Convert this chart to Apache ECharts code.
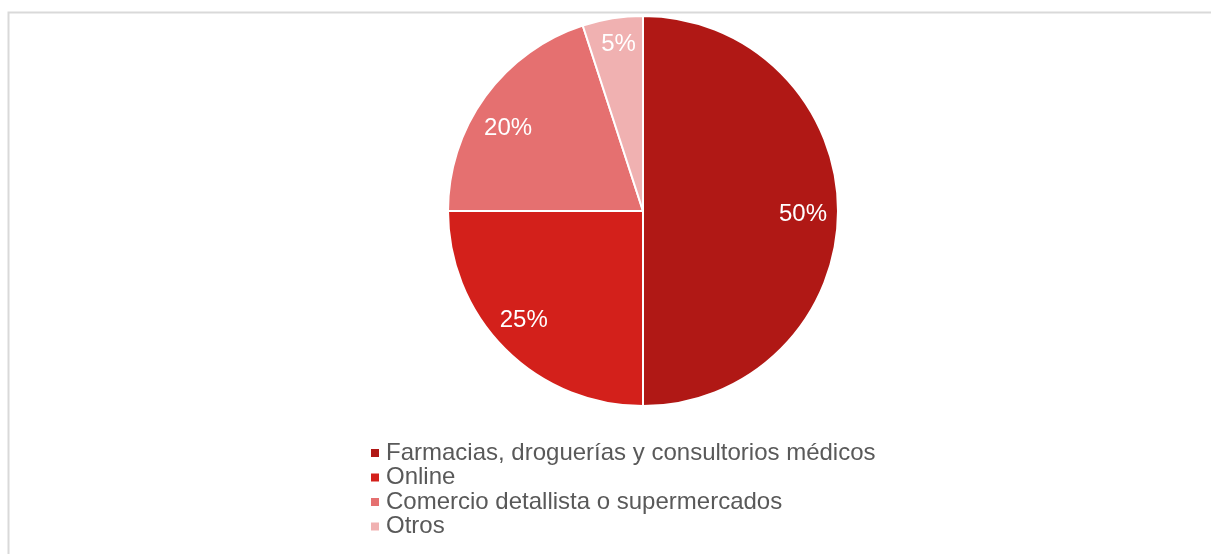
<!DOCTYPE html>
<html>
<head>
<meta charset="utf-8">
<script src="https://cdn.jsdelivr.net/npm/echarts@6/dist/echarts.min.js"></script>
<style>
  html, body { margin: 0; padding: 0; background: #fff; }
  #chart { width: 1211px; height: 554px; }
</style>
</head>
<body>
<div id="chart"></div>
<script>
const categories = [
  'Farmacias, droguerías y consultorios médicos',
  'Online',
  'Comercio detallista o supermercados',
  'Otros'
]
const shares = [50, 25, 20, 5]
const colors = ['#b01815', '#d3201b', '#e57070', '#f0b1b1']

const chart = echarts.init(document.getElementById('chart'))

const center = [643, 211]
const radius = 195

const pieData = categories.map((name, i) => ({
  name,
  value: shares[i],
  itemStyle: { color: colors[i] }
}))

const labelData = categories.map((name, i) => ({ name, value: shares[i] }))

// small nudges so labels land where Excel's best-fit put them
function nudge(params) {
  const d = [[-3, 3], [-4, -6], [-3, 13], [1, -6]][params.dataIndex]
  return { dx: d[0], dy: d[1] }
}

const option = {
  animation: false,
  graphic: [
    {
      type: 'rect',
      shape: { x: 8.5, y: 12.5, width: 1300, height: 600 },
      style: { fill: 'none', stroke: '#d9d9d9', lineWidth: 2 },
      silent: true,
      z: -1
    }
  ],
  legend: {
    orient: 'vertical',
    left: 366,
    top: 436,
    itemWidth: 8,
    itemHeight: 8,
    itemGap: 0.5,
    icon: 'rect',
    itemStyle: { borderWidth: 0 },
    data: categories,
    textStyle: {
      fontFamily: 'Liberation Sans, Arial, sans-serif',
      fontSize: 24,
      lineHeight: 24,
      color: '#595959',
      padding: [0, 0, 0, 2]
    }
  },
  series: [
    {
      type: 'pie',
      center,
      radius: [0, radius],
      startAngle: 90,
      clockwise: true,
      data: pieData,
      itemStyle: { borderColor: '#fff', borderWidth: 2 },
      label: { show: false },
      labelLine: { show: false },
      emphasis: { disabled: true }
    },
    {
      // transparent ring that only carries the percentage labels
      type: 'pie',
      center,
      radius: [0, 320],
      startAngle: 90,
      clockwise: true,
      silent: true,
      data: labelData,
      itemStyle: { color: 'rgba(0,0,0,0)' },
      label: {
        show: true,
        position: 'inside',
        formatter: '{c}%',
        color: '#fff',
        fontFamily: 'Liberation Sans, Arial, sans-serif',
        fontSize: 24
      },
      labelLayout: nudge,
      labelLine: { show: false },
      emphasis: { disabled: true },
      z: 5
    }
  ]
}

chart.setOption(option)
</script>
</body>
</html>
